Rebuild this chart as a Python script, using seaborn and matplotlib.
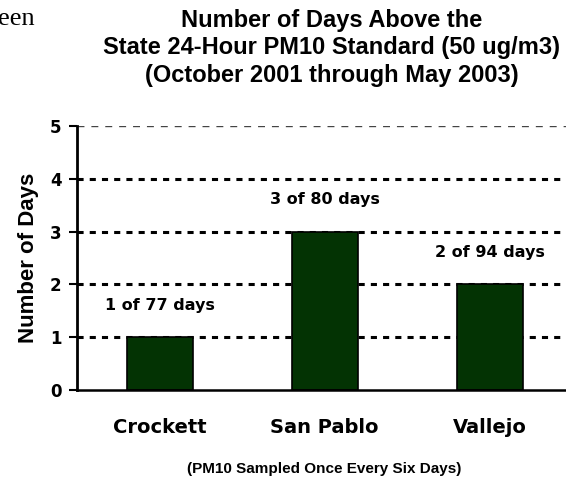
import numpy as np
import pandas as pd
import seaborn as sns
import matplotlib.pyplot as plt

# data
sites = ["Crockett", "San Pablo", "Vallejo"]
days_above = [1, 3, 2]
days_sampled = [77, 80, 94]
y_ticks = [0, 1, 2, 3, 4, 5]

df = pd.DataFrame({"site": sites, "days": days_above})

sns.set_style("white")
plt.rcParams["font.family"] = ["Liberation Sans", "DejaVu Sans"]
plt.rcParams["text.color"] = "black"
plt.rcParams["axes.labelcolor"] = "black"
plt.rcParams["xtick.color"] = "black"
plt.rcParams["ytick.color"] = "black"
heavy = ["DejaVu Sans"]

fig = plt.figure(figsize=(5.66, 4.78), dpi=100)
ax = fig.add_axes([77 / 566, 88 / 478, 495 / 566, 264 / 478])

# gridlines behind the bars
for y in y_ticks[1:-1]:
    ax.axhline(y, color="black", lw=2.2, ls=(0, (2, 2)), zorder=0)
ax.axhline(y_ticks[-1], color="#444444", lw=1.0, ls=(0, (5, 5)), zorder=0)

sns.barplot(data=df, x="site", y="days", color="#033303", width=0.4,
            edgecolor="black", linewidth=1.2, saturation=1, ax=ax, zorder=2)

# labels above bars
for i, (v, n) in enumerate(zip(days_above, days_sampled)):
    ax.text(i, v + 0.6, f"{v} of {n} days", ha="center", va="center",
            fontsize=11.5, fontweight="bold", family=heavy)

ax.set_xlim(-0.5, 2.5)
ax.set_ylim(0, 5)
ax.set_yticks(y_ticks)
ax.set_yticklabels([str(t) for t in y_ticks], fontsize=12, fontweight="bold", family=heavy)
ax.set_xticks(range(len(sites)))
ax.set_xticklabels(sites, fontsize=14, fontweight="bold", family=heavy)
ax.set_xticks([-0.5, 0.5, 1.5, 2.5], minor=True)
ax.tick_params(axis="x", which="major", length=0, pad=20)
ax.tick_params(axis="x", which="minor", length=5, width=1.2, color="black", direction="out")
ax.tick_params(axis="y", length=6, width=1.5, color="black", direction="out", pad=5, left=True)

for s in ["top", "right"]:
    ax.spines[s].set_visible(False)
ax.spines["left"].set_linewidth(2)
ax.spines["left"].set_color("black")
ax.spines["bottom"].set_linewidth(1.8)
ax.spines["bottom"].set_color("black")

ax.set_ylabel("Number of Days", fontsize=16, fontweight="bold", labelpad=8)
ax.set_xlabel("(PM10 Sampled Once Every Six Days)", fontsize=11, fontweight="bold", labelpad=18)

title_lines = ["Number of Days Above the",
               "State 24-Hour PM10 Standard (50 ug/m3)",
               "(October 2001 through May 2003)"]
title_base = [27, 54, 82]
for txt, ty in zip(title_lines, title_base):
    fig.text(332 / 566, 1 - ty / 478, txt, ha="center", va="baseline",
             fontsize=17, fontweight="bold")

# fragment of surrounding document text
fig.text(-0.004, 1 - 25 / 478, "een", ha="left", va="baseline", fontsize=19,
         family=["Liberation Serif", "DejaVu Serif"])

fig.savefig("out.png", dpi=100)
